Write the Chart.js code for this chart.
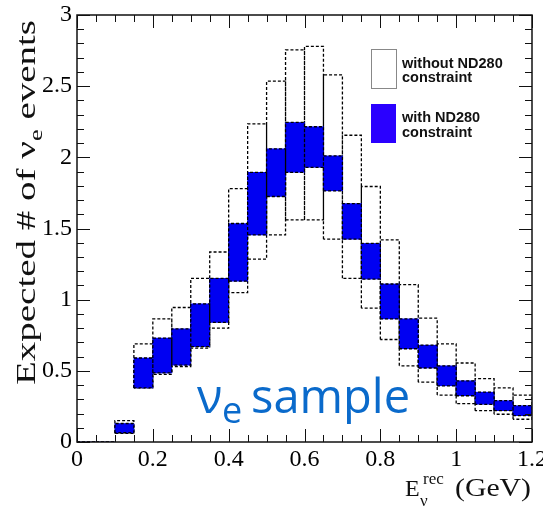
<!DOCTYPE html>
<html>
<head>
<meta charset="utf-8">
<script src="https://cdn.jsdelivr.net/npm/chart.js@4.4.0/dist/chart.umd.min.js"></script>
<style>
  html, body { margin: 0; padding: 0; background: #fff; }
</style>
</head>
<body>
<canvas id="nueChart" width="543" height="508"></canvas>
<script>
// ---- 1. DATA --------------------------------
// lower edge of each reconstructed-energy bin (GeV), bins are 0.05 wide
const binStart = [0.00, 0.05, 0.10, 0.15, 0.20, 0.25, 0.30, 0.35, 0.40, 0.45, 0.50, 0.55,
                  0.60, 0.65, 0.70, 0.75, 0.80, 0.85, 0.90, 0.95, 1.00, 1.05, 1.10, 1.15];
const binWidth = 0.05;

// band without ND280 constraint (dashed boxes)
const noNDLow  = [0, 0, 0.06, 0.38, 0.475, 0.53, 0.66, 0.80, 1.05, 1.285, 1.455, 1.56,
                  1.56, 1.425, 1.15, 0.94, 0.72, 0.535, 0.42, 0.33, 0.27, 0.22, 0.195, 0.16];
const noNDHigh = [0, 0, 0.15, 0.69, 0.865, 0.945, 1.15, 1.335, 1.78, 2.235, 2.535, 2.755,
                  2.78, 2.58, 2.155, 1.795, 1.42, 1.105, 0.87, 0.69, 0.555, 0.445, 0.38, 0.33];

// band with ND280 constraint (blue boxes)
const withNDLow  = [0, 0, 0.065, 0.38, 0.485, 0.54, 0.67, 0.84, 1.13, 1.455, 1.725, 1.895,
                    1.93, 1.765, 1.425, 1.145, 0.865, 0.655, 0.52, 0.395, 0.325, 0.265, 0.22, 0.185];
const withNDHigh = [0, 0, 0.13, 0.59, 0.73, 0.795, 0.97, 1.15, 1.535, 1.895, 2.06, 2.245,
                    2.215, 2.01, 1.675, 1.395, 1.11, 0.865, 0.68, 0.535, 0.43, 0.35, 0.29, 0.255];

const xTickValues = [0, 0.2, 0.4, 0.6, 0.8, 1.0, 1.2];
const xTickLabels = ["0", "0.2", "0.4", "0.6", "0.8", "1", "1.2"];
const yTickValues = [0, 0.5, 1, 1.5, 2, 2.5, 3];
const yTickLabels = ["0", "0.5", "1", "1.5", "2", "2.5", "3"];

// ---- 2. HELPERS -----------------------------
// outline of every bin as a closed box, null breaks the line between boxes
function boxPath(lows, highs) {
  const pts = [];
  binStart.forEach((x0, i) => {
    const x1 = x0 + binWidth;
    pts.push({x: x0, y: lows[i]}, {x: x0, y: highs[i]}, {x: x1, y: highs[i]},
             {x: x1, y: lows[i]}, {x: x0, y: lows[i]}, {x: x1, y: null});
  });
  return pts;
}

const withBars = binStart.map((x0, i) => ({x: x0 + binWidth / 2, y: [withNDLow[i], withNDHigh[i]]}));

const serif = "'Liberation Serif', 'Times New Roman', serif";

// ROOT style frame with inward ticks on all four sides
const framePlugin = {
  id: "frame",
  afterDatasetsDraw(chart) {
    const {ctx, chartArea: a, scales: {x, y}} = chart;
    ctx.save();
    ctx.strokeStyle = "#111";
    ctx.lineWidth = 1;
    ctx.beginPath();
    for (let i = 0; i <= 30; i++) {
      const py = Math.round(y.getPixelForValue(i / 10)) + 0.5;
      const len = i % 5 === 0 ? 13 : 7;
      ctx.moveTo(a.left, py); ctx.lineTo(a.left + len, py);
      ctx.moveTo(a.right, py); ctx.lineTo(a.right - len, py);
    }
    for (let i = 0; i <= 24; i++) {
      const px = Math.round(x.getPixelForValue(i * 0.05)) + 0.5;
      const len = i % 4 === 0 ? 13 : 7;
      ctx.moveTo(px, a.bottom); ctx.lineTo(px, a.bottom - len);
      ctx.moveTo(px, a.top); ctx.lineTo(px, a.top + len);
    }
    ctx.stroke();
    ctx.lineWidth = 1.5;
    ctx.strokeRect(a.left, a.top, a.right - a.left, a.bottom - a.top);
    ctx.restore();
  }
};

// legend, axis titles and the sample label
const textPlugin = {
  id: "texts",
  afterDraw(chart) {
    const {ctx} = chart;
    ctx.save();
    // legend
    ctx.strokeStyle = "#888";
    ctx.lineWidth = 1;
    ctx.strokeRect(371.5, 49.5, 25, 39);
    ctx.fillStyle = "#2a00ff";
    ctx.fillRect(371, 104, 25, 39);
    ctx.fillStyle = "#111";
    ctx.font = "bold 14.5px 'Liberation Sans', Arial, sans-serif";
    ctx.textBaseline = "alphabetic";
    ctx.fillText("without ND280", 402, 68);
    ctx.fillText("constraint", 402, 82);
    ctx.fillText("with ND280", 402, 122);
    ctx.fillText("constraint", 402, 137);

    // nu_e sample
    ctx.fillStyle = "#0a6acb";
    ctx.font = "47px 'Open Sans', sans-serif";
    ctx.fillText("\u03BD", 197, 413);
    ctx.font = "36px 'Open Sans', sans-serif";
    ctx.fillText("e", 222, 423);
    ctx.font = "47px 'Open Sans', sans-serif";
    ctx.fillText("sample", 251, 413);

    // x title
    ctx.fillStyle = "#111";
    ctx.font = "24px " + serif;
    ctx.fillText("E", 405, 496);
    ctx.font = "17px " + serif;
    ctx.fillText("rec", 423, 484);
    ctx.fillText("\u03BD", 420, 506);
    ctx.font = "25px " + serif;
    const gev = "(GeV)";
    const gw = ctx.measureText(gev).width;
    ctx.save();
    ctx.translate(455, 496);
    ctx.scale(76 / gw, 1);
    ctx.fillText(gev, 0, 0);
    ctx.restore();

    // y title, rotated, written from the bottom up
    const parts = [
      {t: "Expected # of ", size: 28, dy: 0},
      {t: "\u03BD", size: 28, dy: 0},
      {t: "e", size: 19, dy: 7},
      {t: " events", size: 28, dy: 0}
    ];
    let total = 0;
    parts.forEach(p => { ctx.font = p.size + "px " + serif; p.w = ctx.measureText(p.t).width; total += p.w; });
    const yBottom = 385, yTop = 20;
    const sx = (yBottom - yTop) / total;
    ctx.translate(35, yBottom);
    ctx.rotate(-Math.PI / 2);
    ctx.scale(sx, 1);
    let cx = 0;
    parts.forEach(p => {
      ctx.font = p.size + "px " + serif;
      ctx.fillText(p.t, cx, p.dy);
      cx += p.w;
    });
    ctx.restore();
  }
};

// ---- 3. CHART -------------------------------
const ctx = document.getElementById("nueChart").getContext("2d");

new Chart(ctx, {
  type: "bar",
  data: {
    datasets: [
      {
        type: "line",
        label: "without ND280 constraint",
        data: boxPath(noNDLow, noNDHigh),
        borderColor: "#000",
        borderWidth: 1.3,
        borderDash: [3, 2],
        pointRadius: 0,
        fill: false,
        tension: 0,
        order: 3
      },
      {
        type: "bar",
        label: "with ND280 constraint",
        data: withBars,
        backgroundColor: "#0000f2",
        borderWidth: 0,
        barPercentage: 1,
        categoryPercentage: 1,
        grouped: false,
        order: 2
      },
      {
        type: "line",
        label: "with ND280 outline",
        data: boxPath(withNDLow, withNDHigh),
        borderColor: "#000",
        borderWidth: 1.3,
        borderDash: [3, 2],
        pointRadius: 0,
        fill: false,
        tension: 0,
        order: 1
      }
    ]
  },
  options: {
    responsive: false,
    animation: false,
    events: [],
    layout: { padding: { left: 0, right: 11, top: 15, bottom: 0 } },
    plugins: { legend: { display: false }, tooltip: { enabled: false } },
    scales: {
      x: {
        type: "linear",
        min: 0,
        max: 1.2,
        offset: false,
        grid: { display: false, drawTicks: false },
        border: { display: false },
        afterBuildTicks: s => { s.ticks = xTickValues.map(v => ({ value: v })); },
        afterFit: s => { s.height = 66; s.paddingLeft = 0; s.paddingRight = 0; },
        ticks: {
          autoSkip: false,
          maxRotation: 0,
          padding: 3,
          color: "#000",
          font: { family: serif, size: 24 },
          callback: (v, i) => xTickLabels[i]
        }
      },
      y: {
        min: 0,
        max: 3,
        grid: { display: false, drawTicks: false },
        border: { display: false },
        afterBuildTicks: s => { s.ticks = yTickValues.map(v => ({ value: v })); },
        afterFit: s => { s.width = 77; s.paddingTop = 0; s.paddingBottom = 0; },
        ticks: {
          autoSkip: false,
          padding: 5,
          color: "#000",
          font: { family: serif, size: 24 },
          callback: (v, i) => yTickLabels[i]
        }
      }
    }
  },
  plugins: [framePlugin, textPlugin]
});
</script>
</body>
</html>
